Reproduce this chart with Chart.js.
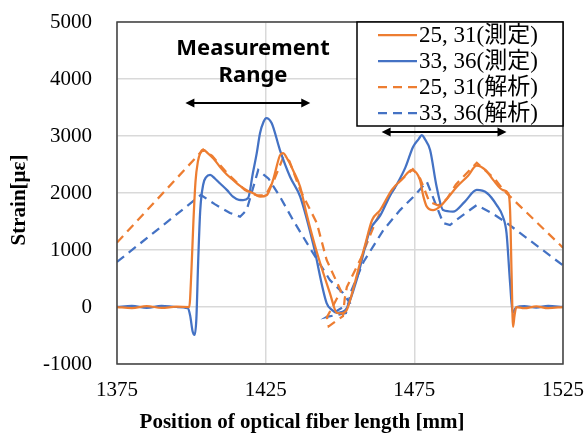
<!DOCTYPE html>
<html>
<head>
<meta charset="utf-8">
<script src="https://cdn.jsdelivr.net/npm/chart.js@4"></script>
<style>
  body { margin: 0; background: #fff; }
</style>
</head>
<body>
<canvas id="chart" width="587" height="437"></canvas>
<script>
// ticks
const xTicks = [1375, 1425, 1475, 1525];
const yTicks = [-1000, 0, 1000, 2000, 3000, 4000, 5000];

// series labels
const seriesNames = ["25, 31(測定)", "33, 36(測定)", "25, 31(解析)", "33, 36(解析)"];

// 25, 31 measured
const m1X = [1375,1380,1385,1390,1395,1399.3,1400,1400.7,1401.4,1402.2,1403,1404,1405.5,1407.5,1409.6,1412,1414,1416.5,1418.6,1421,1423.1,1425.4,1427.5,1429.8,1430.8,1432.5,1434.2,1436.6,1438.7,1442,1446.6,1449,1450.5,1452.2,1454,1456.4,1458.5,1460.8,1463.5,1467.5,1471,1474.1,1476.9,1478,1479.2,1481.3,1483.6,1486,1489.3,1493,1496,1499,1501.5,1504.8,1506.5,1507.2,1507.7,1508.2,1508.7,1509.3,1512,1516,1520,1525];
const m1Y = [0,-20,15,-15,5,0,600,1500,2200,2550,2700,2760,2700,2600,2460,2320,2230,2120,2050,1990,1935,1965,2230,2660,2700,2580,2400,2110,1645,1000,245,-105,-110,-60,230,707,1100,1526,1700,2060,2250,2403,2230,1950,1760,1700,1760,1900,2110,2300,2480,2400,2230,2050,2000,1700,600,-350,-150,0,-20,10,-20,0];

// 33, 36 measured
const m2X = [1375,1380,1385,1390,1395,1398.8,1399.6,1400.4,1401.1,1401.7,1402.3,1403,1404,1405,1406.3,1408,1409.6,1412,1414,1416,1417.4,1419.1,1420.7,1422,1423.1,1424.3,1425.2,1427,1429.8,1433.2,1436.6,1441,1445.5,1447.5,1448.9,1450.5,1452.3,1455.6,1460.1,1463.5,1466.8,1469.1,1472,1474.6,1476.5,1477.5,1478.5,1480.3,1482.5,1484.7,1488,1492,1496,1499.4,1502.7,1504.8,1506,1507.2,1508.1,1508.8,1509.4,1512,1516,1520,1525];
const m2Y = [0,20,-15,20,0,-20,-150,-420,-490,-200,800,1700,2150,2280,2316,2250,2170,2050,1935,1880,1877,1912,2350,2700,3050,3250,3315,3228,2754,2286,1935,1100,70,-60,-105,-90,-18,474,1350,1600,1950,2150,2450,2812,2950,3017,2950,2754,2110,1700,1672,1850,2053,2000,1789,1584,1300,421,-105,-40,0,15,-10,20,0];

// 25, 31 analysis
const a1X = [1375,1404,1407,1412,1418,1422,1425,1428,1431,1433,1436.6,1442.2,1445.5,1450.3,1445.6,1446.2,1451,1451.6,1452.3,1457,1462,1466.5,1470,1474.5,1477,1480,1483,1486,1489,1496,1502,1505,1525];
const a1Y = [1130,2760,2650,2350,2050,1960,1960,2250,2640,2560,2053,1474,825,280,-180,-340,-160,150,350,850,1500,1950,2200,2420,2250,1850,1780,1900,2150,2530,2250,2050,1040];

// 33, 36 analysis
const a2X = [1375,1403.2,1408,1413,1416.4,1418.6,1422.5,1426,1429.8,1434.2,1440.9,1446.6,1451,1453.3,1445.5,1452,1453.9,1458,1464.6,1470.2,1475,1479.2,1484.7,1487,1491,1496,1501,1506.1,1525];
const a2Y = [790,1965,1800,1650,1584,1700,2403,2250,1935,1526,947,474,245,70,-175,-105,298,800,1350,1700,1950,2198,1474,1438,1600,1789,1650,1474,730];

// measurement range arrows [xStart, xEnd, y]
const range1 = [1398, 1440, 3580];
const range2 = [1464, 1506, 3070];

const ORANGE = "#ED7D31";
const BLUE = "#4472C4";
const SERIF = "'Liberation Serif', 'Times New Roman', 'Noto Sans CJK JP', serif";

const pts = (xs, ys) => xs.map((x, i) => ({ x: x, y: ys[i] }));

function arrow(ctx, x1, x2, y) {
  const h = 9, w = 4.5;
  ctx.beginPath();
  ctx.moveTo(x1 + h - 1, y);
  ctx.lineTo(x2 - h + 1, y);
  ctx.stroke();
  ctx.beginPath();
  ctx.moveTo(x1, y); ctx.lineTo(x1 + h, y - w); ctx.lineTo(x1 + h, y + w); ctx.closePath();
  ctx.moveTo(x2, y); ctx.lineTo(x2 - h, y - w); ctx.lineTo(x2 - h, y + w); ctx.closePath();
  ctx.fill();
}

const decor = {
  id: "decor",
  afterDatasetsDraw(chart) {
    const { ctx, chartArea: a, scales: { x, y } } = chart;
    ctx.save();

    // plot frame
    ctx.strokeStyle = "#404040";
    ctx.lineWidth = 1.5;
    ctx.strokeRect(a.left, a.top, a.right - a.left, a.bottom - a.top);

    // arrows
    ctx.strokeStyle = "#000";
    ctx.fillStyle = "#000";
    ctx.lineWidth = 2;
    [range1, range2].forEach(r => {
      arrow(ctx, x.getPixelForValue(r[0]), x.getPixelForValue(r[1]), y.getPixelForValue(r[2]));
    });

    // annotation text
    ctx.font = "bold 22px 'Noto Sans', sans-serif";
    ctx.textAlign = "center";
    ctx.textBaseline = "alphabetic";
    ctx.fillText("Measurement", 253, 55);
    ctx.fillText("Range", 253, 82);

    // axis titles
    ctx.font = "bold 21px " + SERIF;
    ctx.textBaseline = "middle";
    ctx.fillText("Position of optical fiber length [mm]", 302, 423);
    ctx.save();
    ctx.translate(20, 200);
    ctx.rotate(-Math.PI / 2);
    ctx.fillText("Strain[με]", 0, 0);
    ctx.restore();

    // legend box
    const lw = 206, lh = 104;
    const lx = a.right - lw, ly = a.top;
    ctx.fillStyle = "#fff";
    ctx.fillRect(lx, ly, lw, lh);
    ctx.strokeStyle = "#000";
    ctx.lineWidth = 1.5;
    ctx.strokeRect(lx, ly, lw, lh);
    ctx.font = "23px " + SERIF;
    ctx.textAlign = "left";
    chart.data.datasets.forEach((ds, i) => {
      const yy = ly + 13 + i * 26;
      ctx.strokeStyle = ds.borderColor;
      ctx.lineWidth = ds.borderWidth;
      ctx.setLineDash(ds.borderDash || []);
      ctx.beginPath();
      ctx.moveTo(lx + 21, yy);
      ctx.lineTo(lx + 60, yy);
      ctx.stroke();
      ctx.setLineDash([]);
      ctx.fillStyle = "#000";
      ctx.fillText(ds.label, lx + 62, yy + 1);
    });

    ctx.restore();
  }
};

new Chart(document.getElementById("chart"), {
  type: "scatter",
  data: {
    datasets: [
      { label: seriesNames[0], data: pts(m1X, m1Y), borderColor: ORANGE, borderWidth: 2.25, showLine: true, pointRadius: 0, cubicInterpolationMode: "monotone", tension: 0.4 },
      { label: seriesNames[1], data: pts(m2X, m2Y), borderColor: BLUE, borderWidth: 2.25, showLine: true, pointRadius: 0, cubicInterpolationMode: "monotone", tension: 0.4 },
      { label: seriesNames[2], data: pts(a1X, a1Y), borderColor: ORANGE, borderWidth: 2.25, borderDash: [9, 6], showLine: true, pointRadius: 0, tension: 0 },
      { label: seriesNames[3], data: pts(a2X, a2Y), borderColor: BLUE, borderWidth: 2.25, borderDash: [9, 6], showLine: true, pointRadius: 0, tension: 0 }
    ]
  },
  options: {
    responsive: false,
    animation: false,
    devicePixelRatio: 1,
    layout: { padding: { top: 22, right: 24, left: 0, bottom: 0 } },
    plugins: { legend: { display: false }, tooltip: { enabled: false } },
    scales: {
      x: {
        type: "linear",
        min: 1375,
        max: 1525,
        afterBuildTicks: s => { s.ticks = xTicks.map(v => ({ value: v })); },
        afterFit: s => { s.height = 73; s.paddingLeft = 0; s.paddingRight = 0; },
        grid: { color: "#d9d9d9", lineWidth: 1.5, drawTicks: false },
        border: { display: false },
        ticks: { color: "#000", padding: 14, maxRotation: 0, callback: v => String(v), font: { family: SERIF, size: 21 } }
      },
      y: {
        min: -1000,
        max: 5000,
        afterBuildTicks: s => { s.ticks = yTicks.map(v => ({ value: v })); },
        afterFit: s => { s.width = 117; s.paddingTop = 0; s.paddingBottom = 0; },
        grid: { color: "#d9d9d9", lineWidth: 1.5, drawTicks: false },
        border: { display: false },
        ticks: { color: "#000", padding: 25, callback: v => String(v), font: { family: SERIF, size: 21 } }
      }
    }
  },
  plugins: [decor]
});
</script>
</body>
</html>
